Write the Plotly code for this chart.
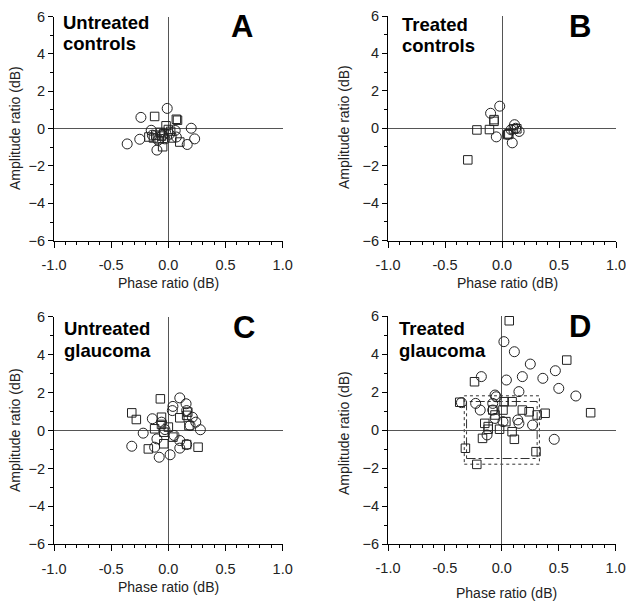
import plotly.graph_objects as go
from plotly.subplots import make_subplots

W, H = 634, 609
# the page puts the figure 8px in from the top-left corner
OX, OY = 8, 8

# ---- data (phase ratio, amplitude ratio) ----
a_circ_x = [-0.01, -0.24, -0.36, -0.25, 0.20, 0.23, 0.165, -0.10, -0.15, 0.06, 0.07, -0.05, -0.09, 0.01, -0.14, -0.03]
a_circ_y = [1.08, 0.60, -0.82, -0.57, 0.02, -0.55, -0.85, -1.15, -0.09, -0.10, -0.45, -0.35, -0.62, -0.30, -0.35, -0.55]
a_sq_x = [-0.12, 0.07, 0.08, 0.10, -0.05, -0.02, -0.17, -0.11, -0.04, -0.07, 0.00, -0.08, 0.03, -0.13, 0.02, -0.06]
a_sq_y = [0.65, 0.50, 0.45, -0.72, -0.97, 0.15, -0.45, -0.35, -0.27, -0.20, -0.05, -0.55, -0.50, -0.50, -0.15, -0.40]

b_circ_x = [-0.02, -0.10, -0.05, 0.09, 0.11, 0.12, 0.15, 0.08, 0.05]
b_circ_y = [1.18, 0.80, -0.46, -0.78, 0.19, 0.00, -0.17, -0.08, -0.33]
b_sq_x = [-0.30, -0.22, -0.11, -0.07, -0.07, 0.05, 0.06, 0.10, 0.13]
b_sq_y = [-1.69, -0.09, -0.07, 0.37, 0.46, -0.34, -0.30, -0.04, -0.03]

c_circ_x = [0.10, 0.04, 0.035, 0.155, 0.16, 0.21, 0.24, 0.28, 0.19, -0.14, -0.06, -0.22, -0.32, -0.12, -0.10,
            -0.08, 0.015, 0.10, 0.10, 0.05, 0.16, -0.03]
c_circ_y = [1.72, 1.27, 1.05, 1.41, 1.05, 0.70, 0.44, 0.04, 0.26, 0.62, 0.44, -0.14, -0.83, -0.88, -0.44,
            -1.41, -1.28, -0.93, -0.53, -0.26, -0.74, 0.05]
c_sq_x = [-0.07, -0.32, -0.28, 0.10, 0.17, 0.16, 0.18, -0.06, -0.06, -0.12, 0.00, -0.04, -0.175, 0.26, 0.16,
          0.04, -0.04]
c_sq_y = [1.67, 0.93, 0.58, 0.67, 0.97, 0.80, 0.26, 0.70, 0.32, 0.09, 0.18, -0.70, -0.97, -0.88, -0.74,
          -0.35, -0.09]

d_circ_x = [0.018, 0.11, 0.25, 0.47, 0.36, 0.18, 0.04, -0.18, 0.50, 0.65, 0.15, -0.06, -0.05, -0.23, -0.355,
            -0.19, -0.08, -0.08, -0.06, 0.01, 0.14, 0.15, 0.27, -0.13, 0.46]
d_circ_y = [4.65, 4.12, 3.47, 3.12, 2.72, 2.81, 2.63, 2.81, 2.19, 1.79, 2.02, 1.84, 1.75, 1.40, 1.44,
            1.05, 1.40, 1.05, 0.61, 0.44, 0.53, 0.35, 0.26, -0.26, -0.49]
d_sq_x = [0.065, 0.57, -0.24, 0.78, -0.37, 0.09, 0.02, 0.01, 0.18, 0.24, 0.31, 0.38, -0.08, -0.15, -0.12,
          -0.12, -0.02, 0.09, 0.11, -0.17, -0.32, 0.30, -0.22, -0.06, 0.035]
d_sq_y = [5.75, 3.68, 2.54, 0.91, 1.46, 1.49, 1.49, 1.05, 1.05, 0.96, 0.79, 0.88, 1.05, 0.35, 0.18,
          0.04, 0.04, -0.09, -0.49, -0.44, -0.96, -1.14, -1.81, 0.79, 0.44]

# limits drawn as boxes in panel D
inner_x = [-0.31, 0.31]
inner_y = [-1.5, 1.5]
outer_x = [-0.33, 0.33]
outer_y = [-1.8, 1.8]

panels = [
    ("Untreated", "controls", "A", a_circ_x, a_circ_y, a_sq_x, a_sq_y),
    ("Treated", "controls", "B", b_circ_x, b_circ_y, b_sq_x, b_sq_y),
    ("Untreated", "glaucoma", "C", c_circ_x, c_circ_y, c_sq_x, c_sq_y),
    ("Treated", "glaucoma", "D", d_circ_x, d_circ_y, d_sq_x, d_sq_y),
]

# plot area of each panel in pixels: left, right, top, bottom
boxes = [(54, 282.7, 16.5, 240.7), (388, 616, 16, 240.5),
         (54, 282.7, 316.7, 544.3), (388, 615.7, 316, 544)]
# text anchors in pixels: title left x, title line y's, letter centre, y-title centre, x-title centre
texts = [(61, 23, 43, (242, 27), (15, 128), (168, 283)),
         (400, 25, 45, (580, 27), (344, 127), (507, 283)),
         (62, 328, 350, (244, 327), (15, 430), (168, 587)),
         (397, 328, 350, (580, 326), (344, 433), (506, 593))]

FONT = "Liberation Sans, Arial, sans-serif"


def px(x):
    return (x - OX) / W


def py(y):
    return 1 - (y - OY) / H


fig = make_subplots(rows=2, cols=2)
annotations = []

for i, (t1, t2, letter, cx, cy, sx, sy) in enumerate(panels):
    r, c = i // 2 + 1, i % 2 + 1
    fig.add_trace(go.Scatter(x=cx, y=cy, mode="markers",
                             marker=dict(symbol="circle-open", size=10, color="#222",
                                         line=dict(width=1, color="#222"))), row=r, col=c)
    fig.add_trace(go.Scatter(x=sx, y=sy, mode="markers",
                             marker=dict(symbol="square-open", size=8.5, color="#222",
                                         line=dict(width=1, color="#222"))), row=r, col=c)

    left, right, top, bottom = boxes[i]
    sfx = "" if i == 0 else str(i + 1)
    fig.layout["xaxis" + sfx].update(domain=[px(left), px(right)])
    fig.layout["yaxis" + sfx].update(domain=[py(bottom), py(top)])

    tx, ty1, ty2, (lx, ly), (yx, yy), (xx, xy) = texts[i]
    annotations += [
        dict(x=px(tx), y=py(ty1), xref="paper", yref="paper", text="<b>%s</b>" % t1,
             xanchor="left", yanchor="middle", showarrow=False, font=dict(size=18.5, color="black")),
        dict(x=px(tx), y=py(ty2), xref="paper", yref="paper", text="<b>%s</b>" % t2,
             xanchor="left", yanchor="middle", showarrow=False, font=dict(size=18.5, color="black")),
        dict(x=px(lx), y=py(ly), xref="paper", yref="paper", text="<b>%s</b>" % letter,
             xanchor="center", yanchor="middle", showarrow=False, font=dict(size=31, color="black")),
        dict(x=px(yx), y=py(yy), xref="paper", yref="paper", text="Amplitude ratio (dB)",
             textangle=-90, xanchor="center", yanchor="middle", showarrow=False,
             font=dict(size=14, color="#222")),
        dict(x=px(xx), y=py(xy), xref="paper", yref="paper", text="Phase ratio (dB)",
             xanchor="center", yanchor="middle", showarrow=False, font=dict(size=14, color="#222")),
    ]

# tolerance boxes in panel D
fig.add_shape(type="rect", xref="x4", yref="y4", x0=outer_x[0], x1=outer_x[1], y0=outer_y[0], y1=outer_y[1],
              line=dict(color="#333", width=1, dash="dot"), layer="below")
fig.add_shape(type="rect", xref="x4", yref="y4", x0=inner_x[0], x1=inner_x[1], y0=inner_y[0], y1=inner_y[1],
              line=dict(color="#333", width=1, dash="dashdot"), layer="below")

fig.update_xaxes(range=[-1, 1], tickvals=[-1, -0.5, 0, 0.5, 1], ticktext=["-1.0", "-0.5", "0.0", "0.5", "1.0"],
                 showgrid=False, zeroline=True, zerolinecolor="#555", zerolinewidth=1, automargin=False,
                 showline=True, linecolor="black", linewidth=1, ticks="outside", ticklen=6, tickcolor="black",
                 minor=dict(dtick=0.1, ticks="outside", ticklen=3, tickcolor="black"),
                 tickfont=dict(size=14.5, color="#222"), ticklabelstandoff=5, ticklabeloverflow="allow")
fig.update_yaxes(range=[-6, 6], tickvals=[-6, -4, -2, 0, 2, 4, 6],
                 showgrid=False, zeroline=True, zerolinecolor="#555", zerolinewidth=1, automargin=False,
                 showline=True, linecolor="black", linewidth=1, ticks="outside", ticklen=5, tickcolor="black",
                 minor=dict(dtick=1, ticks="outside", ticklen=3, tickcolor="black"),
                 tickfont=dict(size=14.5, color="#222"), ticklabeloverflow="allow")

fig.update_layout(width=W, height=H, margin=dict(l=0, r=0, t=0, b=0, autoexpand=False),
                  paper_bgcolor="white", plot_bgcolor="white", showlegend=False,
                  font=dict(family=FONT), annotations=annotations)

fig.write_html("out.html")
